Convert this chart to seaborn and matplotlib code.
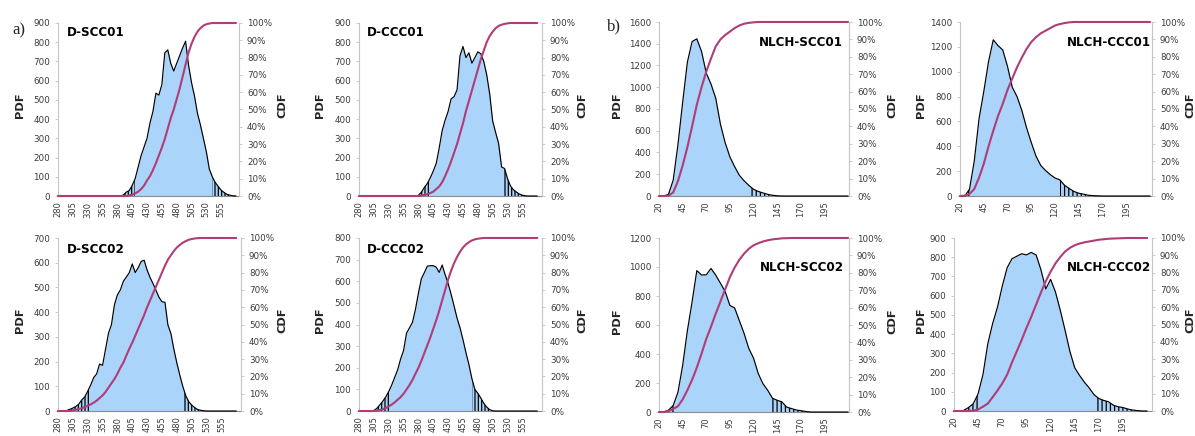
import matplotlib
matplotlib.use("Agg")
import matplotlib.pyplot as plt
from matplotlib.patches import Rectangle
import numpy as np
import pandas as pd
import seaborn as sns

# ---------------- data ----------------
D_X = list(range(280, 585, 5))          # categories 280 .. 580
N_X = list(range(20, 225, 5))           # categories 20 .. 220
D_TICKS = [280, 305, 330, 355, 380, 405, 430, 455, 480, 505, 530, 555]
N_TICKS = [20, 45, 70, 95, 120, 145, 170, 195]

D_SCC01_PDF = [0, 0, 0, 0, 0, 0, 0, 0, 0, 0,
               0, 0, 0, 0, 0, 0, 0, 0, 0, 0,
               0, 0, 5, 20, 28, 55, 90, 150, 210, 255,
               300, 380, 440, 535, 525, 580, 745, 760, 690, 650,
               690, 730, 770, 805, 680, 590, 520, 430, 370, 300,
               230, 140, 100, 70, 50, 30, 18, 8, 4, 1,
               0]
D_SCC01_CDF = [0, 0, 0, 0, 0, 0, 0, 0, 0, 0,
               0, 0, 0, 0, 0, 0, 0, 0, 0, 0,
               0, 0, 0, 0, 0.3, 0.8, 1.5, 2.5, 4, 6,
               9, 11.5, 15, 19, 23.5, 28, 33, 39, 45, 50,
               56, 62, 69, 76, 83, 88, 92, 95, 97, 98.5,
               99.3, 99.7, 100, 100, 100, 100, 100, 100, 100, 100,
               100]

D_CCC01_PDF = [0, 0, 0, 0, 0, 0, 0, 0, 0, 0,
               0, 0, 0, 0, 0, 0, 0, 0, 0, 0,
               3, 20, 45, 65, 95, 130, 170, 250, 340, 395,
               440, 505, 517, 552, 730, 778, 720, 745, 691, 720,
               750, 740, 700, 630, 530, 390, 330, 273, 151, 143,
               90, 52, 32, 20, 10, 4, 1, 0, 0, 0,
               0]
D_CCC01_CDF = [0, 0, 0, 0, 0, 0, 0, 0, 0, 0,
               0, 0, 0, 0, 0, 0, 0, 0, 0, 0,
               0, 0.3, 0.6, 1.0, 1.7, 2.5, 4, 5.5, 8, 11.5,
               15.5, 20, 25, 30, 36, 42, 49, 55, 61, 67,
               73, 79, 84, 89, 92.5, 95, 97, 98.3, 99, 99.5,
               99.8, 100, 100, 100, 100, 100, 100, 100, 100, 100,
               100]

D_SCC02_PDF = [0, 0, 0, 2, 7, 12, 18, 28, 45, 57,
               80, 105, 135, 150, 190, 185, 250, 315, 350, 430,
               470, 490, 525, 542, 560, 595, 560, 580, 605, 610,
               570, 540, 515, 488, 460, 442, 440, 348, 314, 250,
               195, 145, 100, 62, 38, 24, 14, 6, 3, 1,
               0, 0, 0, 0, 0, 0, 0, 0, 0, 0,
               0]
D_SCC02_CDF = [0, 0, 0, 0, 0, 0.4, 0.7, 1.2, 1.6, 2.3,
               3.0, 3.8, 4.8, 6, 7.5, 9, 11, 13.5, 16, 18.5,
               21.5, 25, 28, 32, 36, 39.5, 43.5, 47.5, 51.5, 55.5,
               60, 64, 68, 72, 76, 80, 84, 87.5, 90, 92.5,
               94.5, 96, 97.3, 98.2, 99, 99.4, 99.7, 99.9, 100, 100,
               100, 100, 100, 100, 100, 100, 100, 100, 100, 100,
               100]

D_CCC02_PDF = [0, 0, 0, 0, 0, 2, 12, 28, 45, 65,
               90, 120, 155, 190, 240, 280, 360, 385, 410, 470,
               545, 612, 640, 670, 672, 672, 665, 641, 675, 630,
               590, 540, 486, 430, 385, 330, 270, 215, 150, 100,
               82, 60, 36, 18, 6, 1, 0, 0, 0, 0,
               0, 0, 0, 0, 0, 0, 0, 0, 0, 0,
               0]
D_CCC02_CDF = [0, 0, 0, 0, 0, 0, 0.3, 0.6, 1.0, 1.7,
               2.7, 3.7, 5, 6.5, 8, 10, 12.5, 15, 18, 21.5,
               25, 29, 33.5, 38, 42.5, 47.5, 52.5, 58, 64, 70,
               76, 81, 85.5, 89, 92, 94.5, 96.3, 97.6, 98.6, 99.2,
               99.6, 99.8, 100, 100, 100, 100, 100, 100, 100, 100,
               100, 100, 100, 100, 100, 100, 100, 100, 100, 100,
               100]

N_SCC01_PDF = [0, 0, 15, 145, 470, 860, 1230, 1420, 1445, 1330,
               1130, 1030, 900, 660, 490, 360, 270, 191, 140, 98,
               62, 42, 28, 15, 7, 2, 0, 0, 0, 0,
               0, 0, 0, 0, 0, 0, 0, 0, 0, 0,
               0]
N_SCC01_CDF = [0, 0, 0.2, 2, 8.5, 17.5, 28, 40, 52.5, 62.5,
               71.5, 79, 86, 90, 92.5, 94.5, 96.5, 98, 99, 99.5,
               99.8, 100, 100, 100, 100, 100, 100, 100, 100, 100,
               100, 100, 100, 100, 100, 100, 100, 100, 100, 100,
               100]

N_CCC01_PDF = [0, 0, 55, 280, 620, 840, 1080, 1257, 1210, 1175,
               1042, 875, 800, 690, 550, 430, 320, 245, 205, 172,
               145, 130, 86, 60, 36, 22, 15, 6, 3, 1,
               0, 0, 0, 0, 0, 0, 0, 0, 0, 0,
               0]
N_CCC01_CDF = [0, 0.2, 1.2, 4, 10.5, 18.5, 28.5, 37.5, 46, 53,
               61, 67.5, 74, 79.5, 84.5, 88.5, 91.3, 93.5, 95, 96.5,
               98, 98.8, 99.4, 99.8, 100, 100, 100, 100, 100, 100,
               100, 100, 100, 100, 100, 100, 100, 100, 100, 100,
               100]

N_SCC02_PDF = [0, 0, 12, 45, 135, 320, 560, 760, 975, 945,
               946, 990, 944, 888, 831, 735, 718, 630, 542, 438,
               372, 265, 195, 150, 95, 81, 70, 34, 24, 14,
               9, 4, 0, 0, 0, 0, 0, 0, 0, 0,
               0]
N_SCC02_CDF = [0, 0, 0.5, 1.8, 3.3, 7.2, 12.5, 18.5, 25.5, 33.5,
               42, 49, 56.5, 63.5, 70.5, 77.5, 83, 87.5, 91, 93.8,
               95.8, 97, 98, 98.7, 99.2, 99.5, 99.8, 99.9, 100, 100,
               100, 100, 100, 100, 100, 100, 100, 100, 100, 100,
               100]

N_CCC02_PDF = [0, 0, 3, 18, 38, 90, 190, 350, 455, 540,
               650, 745, 792, 805, 818, 812, 825, 812, 735, 635,
               685, 620, 525, 420, 310, 225, 185, 150, 120, 85,
               65, 55, 48, 30, 22, 18, 10, 5, 2, 0,
               0]
N_CCC02_CDF = [0, 0, 0, 0, 0.2, 0.9, 2.5, 4.3, 8, 11.8,
               16, 21, 28, 34.5, 41, 48, 54.5, 61.5, 68.5, 75,
               80.5, 85.3, 89, 92.2, 94.3, 95.8, 96.8, 97.5, 98, 98.5,
               99, 99.3, 99.55, 99.7, 99.8, 99.9, 100, 100, 100, 100,
               100]

TITLES = ["D-SCC01", "D-CCC01", "NLCH-SCC01", "NLCH-CCC01",
          "D-SCC02", "D-CCC02", "NLCH-SCC02", "NLCH-CCC02"]
PDFS = [D_SCC01_PDF, D_CCC01_PDF, N_SCC01_PDF, N_CCC01_PDF,
        D_SCC02_PDF, D_CCC02_PDF, N_SCC02_PDF, N_CCC02_PDF]
CDFS = [D_SCC01_CDF, D_CCC01_CDF, N_SCC01_CDF, N_CCC01_CDF,
        D_SCC02_CDF, D_CCC02_CDF, N_SCC02_CDF, N_CCC02_CDF]
PDF_MAX = [900, 900, 1600, 1400, 700, 800, 1200, 900]
PDF_STEP = [100, 100, 200, 200, 100, 100, 200, 100]
# tail limits (lower / upper) of the hatched regions
TAIL_LO = [409, 402, 33, 32, 333, 332, 38, 47]
TAIL_HI = [539, 523, 115, 125, 490, 471, 140, 167]

# ---------------- layout / style ----------------
W, H = 1195, 436
RECTS = [(58, 23, 239, 196), (359, 23, 542, 196), (659, 22, 849, 196), (960, 22, 1152, 196),
         (58, 238, 241, 411), (359, 238, 542, 411), (659, 238, 849, 412), (954, 238, 1152, 411)]
XMAX = [585, 588, 221, 222, 588, 588, 221, 225]
TITLE_POS = [(67, 32, "left"), (367, 32, "left"), (843, 43, "right"), (1151, 43, "right"),
             (67, 249, "left"), (367, 249, "left"), (844, 267, "right"), (1151, 267, "right")]
PDF_LBL_X = [20.5, 320.5, 617, 921, 20, 320.5, 617, 921]
CDF_LBL_X = [282, 582, 892, 1190, 282, 582, 892, 1190]

BLUE = "#aad4fa"
MAG = "#b03c78"
SPINE = "#c4c4c4"
TXT = "#3a3a3a"

sns.set_style("white")
plt.rcParams["font.family"] = ["DejaVu Sans"]
plt.rcParams["hatch.linewidth"] = 0.9
plt.rcParams["hatch.color"] = "black"

fig = plt.figure(figsize=(W / 100, H / 100), dpi=100)


def frac_rect(l, t, r, b):
    return [l / W, 1 - b / H, (r - l) / W, (b - t) / H]


for i in range(8):
    is_d = TITLES[i].startswith("D-")
    xs = D_X if is_d else N_X
    df = pd.DataFrame({"x": xs, "pdf": PDFS[i], "cdf": CDFS[i]})
    xmin, xmax = xs[0], XMAX[i]
    ymax = PDF_MAX[i]
    l, t, r, b = RECTS[i]
    ax = fig.add_axes(frac_rect(l, t, r, b))
    ax.set_facecolor("none")

    ax.fill_between(df["x"], 0, df["pdf"], color=BLUE, lw=0, zorder=1)
    hatch = "|||||" if is_d else "||||"
    for a, bnd in [(xmin, TAIL_LO[i]), (TAIL_HI[i], xs[-1])]:
        coll = ax.fill_between(df["x"], 0, df["pdf"], facecolor="none",
                               edgecolor="black", hatch=hatch, lw=0, zorder=2)
        coll.set_clip_path(Rectangle((a, -ymax), bnd - a, ymax * 3,
                                     transform=ax.transData))
    sns.lineplot(data=df, x="x", y="pdf", ax=ax, color="black", lw=0.85,
                 errorbar=None, zorder=3)
    ax.lines[-1].set_clip_on(False)

    ax.set_ylim(0, ymax)
    ax.set_yticks(list(range(0, ymax + 1, PDF_STEP[i])))
    ticks = D_TICKS if is_d else N_TICKS
    ax.set_xticks(ticks)
    ax.set_xticks(list(range(xmin, int(xmax) + 1, 5)), minor=True)
    ax.set_xticklabels([str(v) for v in ticks])
    ax.set_xlabel("")
    ax.set_ylabel("")
    ax.tick_params(axis="x", which="major", direction="out", length=2.5, width=0.6,
                   color=SPINE, labelsize=6, labelcolor=TXT, pad=1.5, labelrotation=90)
    ax.tick_params(axis="x", which="minor", direction="out", length=1.8, width=0.5,
                   color=SPINE)
    ax.tick_params(axis="y", direction="out", length=2.5, width=0.6, color=SPINE,
                   labelsize=6.3, labelcolor=TXT, pad=3.2, left=True)
    for sp in ["top", "right"]:
        ax.spines[sp].set_visible(False)
    ax.spines["left"].set_color(SPINE)
    ax.spines["left"].set_linewidth(0.8)
    ax.spines["bottom"].set_color("#8a8a8a")
    ax.spines["bottom"].set_linewidth(0.8)

    ax2 = ax.twinx()
    sns.lineplot(data=df, x="x", y="cdf", ax=ax2, color=MAG, lw=1.5, errorbar=None)
    ax2.lines[-1].set_clip_on(False)
    ax2.set_ylim(0, 100)
    ax2.set_yticks(list(range(0, 101, 10)))
    ax2.set_yticklabels([f"{v}%" for v in range(0, 101, 10)])
    ax2.set_ylabel("")
    ax2.tick_params(axis="y", direction="out", length=2.5, width=0.6, color=SPINE,
                    labelsize=6.3, labelcolor=TXT, pad=3.2, right=True)
    for sp in ["top", "left", "bottom"]:
        ax2.spines[sp].set_visible(False)
    ax2.spines["right"].set_color(SPINE)
    ax2.spines["right"].set_linewidth(0.8)
    ax.set_xlim(xmin, xmax)
    ax2.set_xlim(xmin, xmax)

    # texts
    tx, ty, ha = TITLE_POS[i]
    fig.text(tx / W, 1 - ty / H, TITLES[i], ha=ha, va="center",
             fontsize=8.6, fontweight="bold", color="black")
    cy = (t + b) / 2 - 4
    fig.text(PDF_LBL_X[i] / W, 1 - cy / H, "PDF", rotation=90, ha="center",
             va="center", fontsize=8.2, fontweight="bold")
    fig.text(CDF_LBL_X[i] / W, 1 - cy / H, "CDF", rotation=90, ha="center",
             va="center", fontsize=8.2, fontweight="bold")

fig.text(12 / W, 1 - 30 / H, "a)", ha="left", va="center", fontsize=12,
         family=["Liberation Serif", "DejaVu Serif"])
fig.text(607 / W, 1 - 26 / H, "b)", ha="left", va="center", fontsize=12,
         family=["Liberation Serif", "DejaVu Serif"])

fig.savefig("out.png", dpi=100)
